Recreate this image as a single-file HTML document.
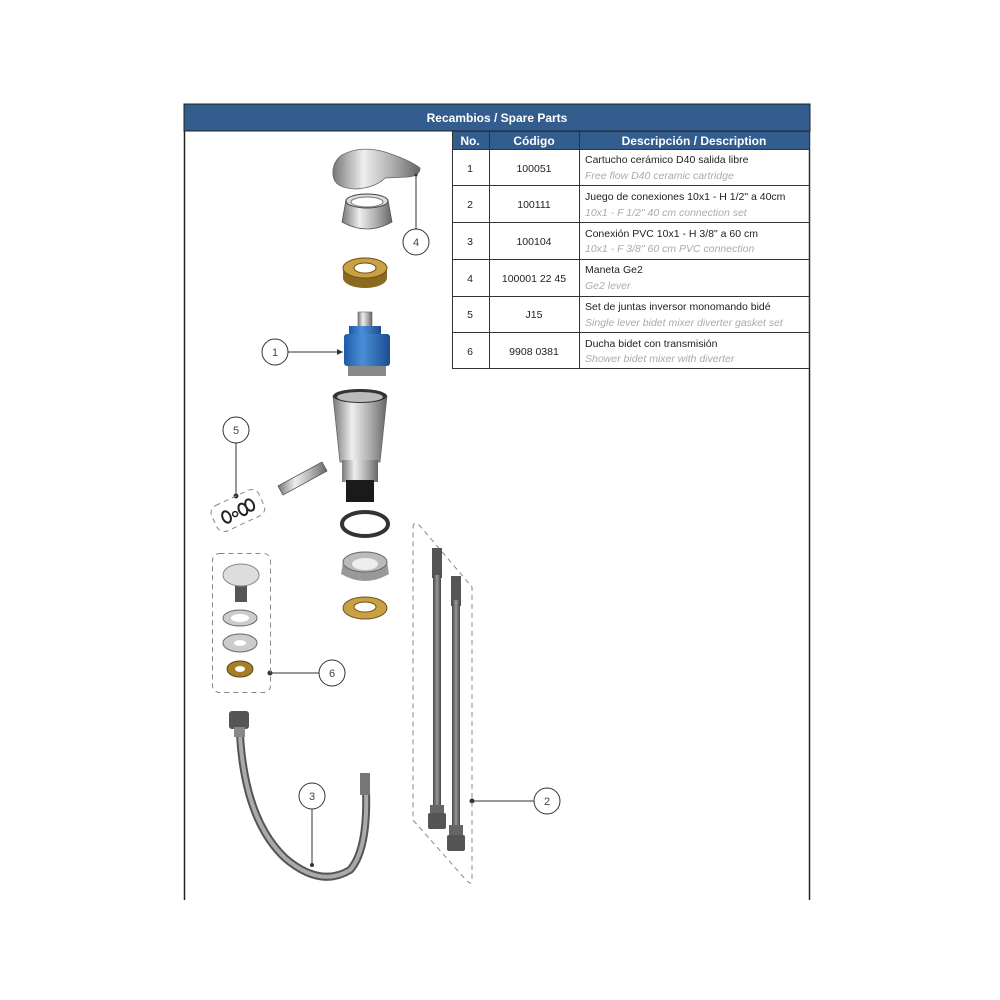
<!DOCTYPE html>
<html><head><meta charset="utf-8"><style>
html,body{margin:0;padding:0;background:#fff;}
body{width:1000px;height:1000px;position:relative;overflow:hidden;font-family:"Liberation Sans",sans-serif;}
svg{position:absolute;left:0;top:0;}
</style></head><body>
<svg width="1000" height="1000" viewBox="0 0 1000 1000" xmlns="http://www.w3.org/2000/svg">
<defs>
<linearGradient id="met" x1="0" x2="1"><stop offset="0" stop-color="#777"/><stop offset=".35" stop-color="#eee"/><stop offset=".7" stop-color="#aaa"/><stop offset="1" stop-color="#666"/></linearGradient>
<linearGradient id="blu" x1="0" x2="1"><stop offset="0" stop-color="#1e5aa8"/><stop offset=".4" stop-color="#4a8fd8"/><stop offset="1" stop-color="#1b4d91"/></linearGradient>
<linearGradient id="hose" x1="0" x2="1"><stop offset="0" stop-color="#444"/><stop offset=".5" stop-color="#999"/><stop offset="1" stop-color="#444"/></linearGradient>
</defs>
<!-- frame -->
<line x1="184.5" y1="104" x2="184.5" y2="900" stroke="#222" stroke-width="1.5"/>
<line x1="809.5" y1="104" x2="809.5" y2="900" stroke="#222" stroke-width="1.5"/>
<rect x="184" y="104" width="626" height="27" fill="#335d8f" stroke="#222" stroke-width="1"/>
<text x="497" y="122" font-size="12" font-weight="bold" fill="#fff" text-anchor="middle">Recambios / Spare Parts</text>
<!-- table -->
<rect x="452" y="131" width="358" height="18" fill="#335d8f"/>
<g fill="#fff" font-size="12" font-weight="bold" text-anchor="middle">
<text x="470" y="145">No.</text><text x="534" y="145">Código</text><text x="694" y="145">Descripción / Description</text></g>
<g stroke="#333" stroke-width="1" fill="none">
<rect x="452.5" y="131.5" width="357" height="237"/>
<line x1="489.5" y1="131" x2="489.5" y2="369"/><line x1="579.5" y1="131" x2="579.5" y2="369"/>
<line x1="452" y1="149.5" x2="810" y2="149.5"/><line x1="452" y1="185.5" x2="810" y2="185.5"/>
<line x1="452" y1="222.5" x2="810" y2="222.5"/><line x1="452" y1="259.5" x2="810" y2="259.5"/>
<line x1="452" y1="296.5" x2="810" y2="296.5"/><line x1="452" y1="332.5" x2="810" y2="332.5"/>
</g>
<g font-size="10.5" fill="#222">
<g text-anchor="middle">
<text x="470" y="172">1</text><text x="534" y="172">100051</text>
<text x="470" y="208">2</text><text x="534" y="208">100111</text>
<text x="470" y="245">3</text><text x="534" y="245">100104</text>
<text x="470" y="282">4</text><text x="534" y="282">100001 22 45</text>
<text x="470" y="318">5</text><text x="534" y="318">J15</text>
<text x="470" y="355">6</text><text x="534" y="355">9908 0381</text>
</g>
<text x="585" y="163">Cartucho cerámico D40 salida libre</text>
<text x="585" y="200">Juego de conexiones 10x1 - H 1/2" a 40cm</text>
<text x="585" y="237">Conexión PVC 10x1 - H 3/8" a 60 cm</text>
<text x="585" y="273">Maneta Ge2</text>
<text x="585" y="310">Set de juntas inversor monomando bidé</text>
<text x="585" y="347">Ducha bidet con transmisión</text>
</g>
<g font-size="10.5" fill="#aaa" font-style="italic">
<text x="585" y="179">Free flow D40 ceramic cartridge</text>
<text x="585" y="216">10x1 - F 1/2" 40 cm connection set</text>
<text x="585" y="252">10x1 - F 3/8" 60 cm PVC connection</text>
<text x="585" y="289">Ge2 lever</text>
<text x="585" y="326">Single lever bidet mixer diverter gasket set</text>
<text x="585" y="362">Shower bidet mixer with diverter</text>
</g>

<!-- lever -->
<path d="M342 155 Q360 145 385 152 Q410 160 420 168 Q420 176 408 177 L385 178 Q375 188 355 189 Q334 188 333 175 Q332 162 342 155Z" fill="url(#met)" stroke="#666" stroke-width=".8"/>
<!-- cap -->
<path d="M346 200 L388 200 L392 222 Q367 236 342 222Z" fill="url(#met)" stroke="#555" stroke-width=".8"/>
<ellipse cx="367" cy="201" rx="21" ry="7" fill="#ddd" stroke="#444"/>
<ellipse cx="367" cy="202" rx="16" ry="5" fill="#fff" stroke="#777"/>
<!-- brass nut -->
<ellipse cx="365" cy="278" rx="22" ry="10" fill="#8a6a20"/>
<rect x="343" y="268" width="44" height="10" fill="#8a6a20"/>
<ellipse cx="365" cy="268" rx="22" ry="10" fill="#c9a042" stroke="#6b5018"/>
<ellipse cx="365" cy="268" rx="11" ry="5" fill="#fff" stroke="#6b5018"/>
<!-- cartridge -->
<rect x="358" y="312" width="14" height="20" fill="url(#met)" stroke="#666" stroke-width=".6"/>
<rect x="349" y="326" width="32" height="10" fill="url(#blu)"/>
<rect x="344" y="334" width="46" height="32" rx="3" fill="url(#blu)"/>
<rect x="348" y="366" width="38" height="10" fill="#888"/>
<!-- body -->
<path d="M333 396 L387 396 L380 462 L340 462Z" fill="url(#met)" stroke="#666" stroke-width=".8"/>
<ellipse cx="360" cy="396" rx="27" ry="7" fill="#333"/>
<ellipse cx="360" cy="397" rx="23" ry="5" fill="#bbb"/>
<rect x="342" y="460" width="36" height="22" fill="url(#met)"/>
<rect x="346" y="480" width="28" height="22" fill="#1a1a1a"/>
<!-- pin -->
<path d="M278 486 L322 462 L327 471 L283 495Z" fill="url(#met)" stroke="#555" stroke-width=".8"/>
<!-- rings -->
<ellipse cx="365" cy="524" rx="23" ry="12" fill="none" stroke="#333" stroke-width="4"/>
<path d="M343 562 L387 562 L389 574 Q365 588 341 574Z" fill="#999"/>
<ellipse cx="365" cy="562" rx="22" ry="10" fill="#bbb" stroke="#666"/>
<ellipse cx="365" cy="564" rx="13" ry="6" fill="#eee"/>
<ellipse cx="365" cy="608" rx="22" ry="11" fill="#c9a042" stroke="#6b5018"/>
<ellipse cx="365" cy="607" rx="11" ry="5" fill="#fff" stroke="#6b5018"/>

<!-- callouts -->
<g stroke="#333" stroke-width="1" fill="#fff">
<line x1="416" y1="175" x2="416" y2="229"/>
<circle cx="416" cy="242" r="13"/>
<line x1="288" y1="352" x2="343" y2="352"/>
<circle cx="275" cy="352" r="13"/>
<line x1="236" y1="443" x2="236" y2="496"/>
<circle cx="236" cy="430" r="13"/>
<line x1="270" y1="673" x2="319" y2="673"/>
<circle cx="332" cy="673" r="13"/>
<line x1="312" y1="809" x2="312" y2="865"/>
<circle cx="312" cy="796" r="13"/>
<line x1="472" y1="801" x2="534" y2="801"/>
<circle cx="547" cy="801" r="13"/>
</g>
<path d="M343 352 l-6 -3 v6z" fill="#333"/>
<g fill="#333"><circle cx="416" cy="175" r="1.5"/><circle cx="236" cy="496" r="2.5"/><circle cx="270" cy="673" r="2.5"/><circle cx="312" cy="865" r="2"/><circle cx="472" cy="801" r="2.5"/></g>
<g font-size="11" fill="#444" text-anchor="middle">
<text x="416" y="246">4</text><text x="275" y="356">1</text><text x="236" y="434">5</text>
<text x="332" y="677">6</text><text x="312" y="800">3</text><text x="547" y="805">2</text></g>

<!-- group 5 -->
<g transform="rotate(-25 237 511)">
<rect x="212" y="497" width="52" height="28" rx="8" fill="none" stroke="#888" stroke-dasharray="5,4"/>
<ellipse cx="225" cy="512" rx="4" ry="6" fill="none" stroke="#222" stroke-width="2"/>
<circle cx="234" cy="513" r="2.5" fill="none" stroke="#222" stroke-width="1.5"/>
<ellipse cx="243" cy="512" rx="4" ry="6" fill="none" stroke="#222" stroke-width="2"/>
<ellipse cx="251" cy="511" rx="4" ry="6" fill="none" stroke="#222" stroke-width="2"/>
</g>

<!-- group 6 -->
<rect x="212.5" y="553.5" width="58" height="139" rx="7" fill="none" stroke="#888" stroke-dasharray="5,4"/>
<rect x="235" y="580" width="12" height="22" fill="#555"/>
<ellipse cx="241" cy="575" rx="18" ry="11" fill="#ddd" stroke="#888"/>
<ellipse cx="240" cy="618" rx="17" ry="8" fill="#ccc" stroke="#666"/><ellipse cx="240" cy="618" rx="9" ry="4" fill="#fff"/>
<ellipse cx="240" cy="643" rx="17" ry="9" fill="#ccc" stroke="#666"/><ellipse cx="240" cy="643" rx="6" ry="3" fill="#fff"/>
<ellipse cx="240" cy="669" rx="13" ry="8" fill="#a57f25" stroke="#5a4412"/><ellipse cx="240" cy="669" rx="5" ry="3" fill="#fff"/>

<!-- hose 3 -->
<path d="M240 735 Q245 820 285 858 Q320 888 350 870 Q368 850 366 790" fill="none" stroke="#555" stroke-width="8"/>
<path d="M240 735 Q245 820 285 858 Q320 888 350 870 Q368 850 366 790" fill="none" stroke="#aaa" stroke-width="4"/>
<rect x="229" y="711" width="20" height="18" rx="3" fill="#555"/>
<rect x="234" y="727" width="11" height="10" fill="#888"/>
<rect x="360" y="773" width="10" height="22" fill="#777"/>

<!-- group 2 -->
<path d="M413 528 Q413 520 420 526 L472 587 L472 880 Q472 886 466 880 L413 820Z" fill="none" stroke="#888" stroke-dasharray="5,4"/>
<rect x="432" y="548" width="10" height="30" fill="#555"/>
<rect x="433" y="575" width="8" height="245" fill="url(#hose)"/>
<rect x="430" y="805" width="14" height="12" fill="#666"/>
<rect x="428" y="813" width="18" height="16" rx="2" fill="#555"/>
<rect x="451" y="576" width="10" height="30" fill="#555"/>
<rect x="452" y="600" width="8" height="230" fill="url(#hose)"/>
<rect x="449" y="825" width="14" height="12" fill="#666"/>
<rect x="447" y="835" width="18" height="16" rx="2" fill="#555"/>
</svg>
</body></html>
